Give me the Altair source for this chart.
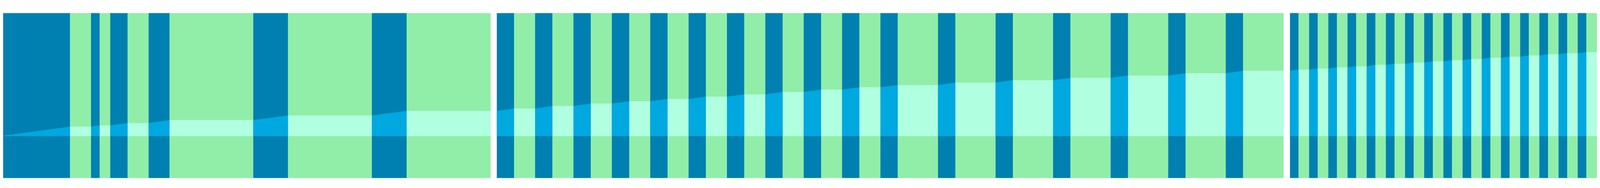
import altair as alt
import pandas as pd

# State of each band alternates, starting with "on" (dark blue) in every panel
STATES = ["on", "off"]
BG_COLORS = ["#0080B0", "#90EEA8"]
FILL_COLORS = ["#00A8E0", "#B0FFE0"]

# Panel 1: band edges and cumulative level (start, then after each "on" band)
P1_EDGES = [0, 200, 260, 285, 315, 365, 425, 485, 725, 825, 1065, 1165, 1406]
P1_LEVELS = [0.0, 0.114, 0.129, 0.155, 0.192, 0.246, 0.300]

# Panel 2
P2_EDGES = [1423, 1473, 1533, 1583, 1643, 1693, 1753, 1803, 1863, 1913, 1973,
            2023, 2083, 2133, 2193, 2243, 2303, 2353, 2413, 2463, 2523, 2573,
            2688, 2738, 2853, 2903, 3018, 3068, 3183, 3233, 3348, 3398, 3513,
            3563, 3679]
P2_LEVELS = [0.300, 0.329, 0.360, 0.389, 0.414, 0.443, 0.471, 0.497, 0.526,
             0.555, 0.583, 0.608, 0.638, 0.667, 0.695, 0.721, 0.749, 0.779]

# Panel 3
P3_EDGES = [3697, 3722, 3752, 3777, 3807, 3832, 3862, 3887, 3917, 3942, 3972,
            3997, 4027, 4052, 4082, 4107, 4137, 4162, 4192, 4217, 4247, 4272,
            4302, 4327, 4357, 4382, 4412, 4437, 4467, 4492, 4522, 4547, 4577]
P3_LEVELS = [0.780, 0.793, 0.805, 0.820, 0.832, 0.850, 0.863, 0.876, 0.892,
             0.905, 0.918, 0.935, 0.947, 0.960, 0.976, 0.989, 1.000]

# Visible x window of each panel (the page margin hides the first few units)
X_WINDOWS = [[8, 1406], [1423, 3679], [3697, 4577]]
Y_WINDOW = [-0.5, 1.4667]
HEIGHT = 472


def build(edges, levels):
    bands, pts = [], []
    it = iter(levels)
    cur = next(it)
    for i in range(len(edges) - 1):
        s = STATES[i % 2]
        x0, x1 = edges[i], edges[i + 1]
        nxt = next(it) if s == "on" else cur
        bands.append({"band": i, "state": s, "x0": x0, "x1": x1})
        pts.append({"band": i, "fstate": s + " fill", "xp": x0, "level": cur})
        pts.append({"band": i, "fstate": s + " fill", "xp": x1, "level": nxt})
        cur = nxt
    return pd.DataFrame(bands), pd.DataFrame(pts)


color_scale = alt.Scale(
    domain=[s for s in STATES] + [s + " fill" for s in STATES],
    range=BG_COLORS + FILL_COLORS,
)


def panel(edges, levels, window):
    bands, pts = build(edges, levels)
    xs = alt.Scale(domain=window, nice=False, zero=False)
    ys = alt.Scale(domain=Y_WINDOW, nice=False)
    bg = alt.Chart(bands).mark_rect(clip=True).encode(
        x=alt.X("x0:Q", scale=xs, axis=None),
        x2="x1:Q",
        color=alt.Color("state:N", scale=color_scale, legend=None),
    )
    fill = alt.Chart(pts).mark_area(clip=True).encode(
        x=alt.X("xp:Q", scale=xs, axis=None),
        y=alt.Y("level:Q", scale=ys, axis=None, stack=None),
        detail="band:N",
        color=alt.Color("fstate:N", scale=color_scale, legend=None),
    )
    return alt.layer(bg, fill).properties(width=window[1] - window[0], height=HEIGHT)


p1 = panel(P1_EDGES, P1_LEVELS, X_WINDOWS[0])
p2 = panel(P2_EDGES, P2_LEVELS, X_WINDOWS[1])
p3 = panel(P3_EDGES, P3_LEVELS, X_WINDOWS[2])

chart = alt.hconcat(
    alt.hconcat(p1, p2, spacing=17),
    p3,
    spacing=18,
).properties(
    padding=0,
    background="white",
).configure_view(stroke=None)

chart.save("out.html", embed_options={"renderer": "svg", "actions": False})
